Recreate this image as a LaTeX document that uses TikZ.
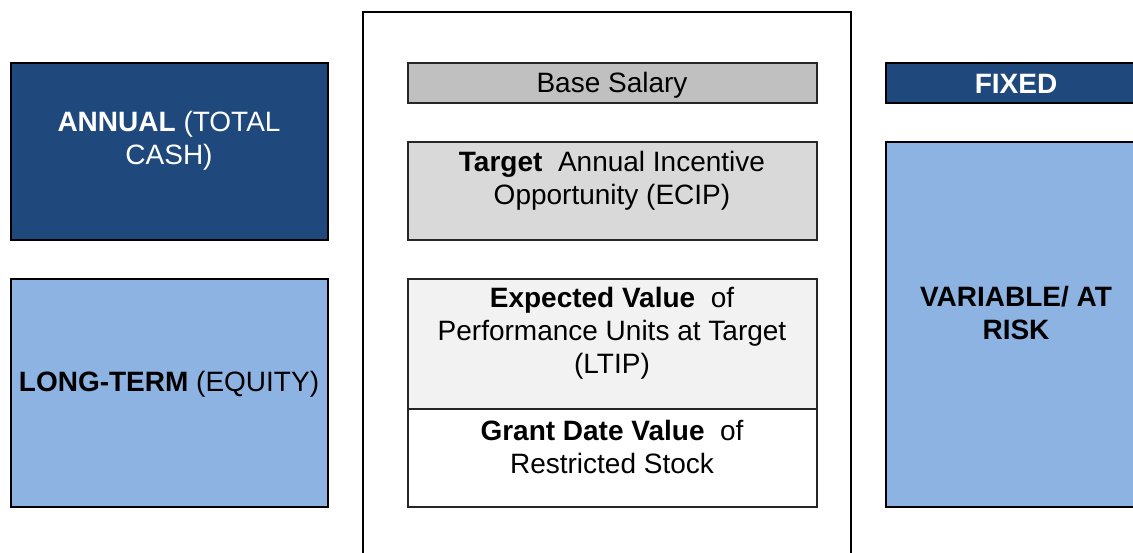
\documentclass[tikz,border=0pt]{standalone}
\usepackage{fontspec}
\setmainfont{Liberation Sans}
\definecolor{darkblue}{HTML}{1F497D}
\definecolor{lightblue}{HTML}{8DB3E2}
\definecolor{greyA}{HTML}{C0C0C0}
\definecolor{greyB}{HTML}{D9D9D9}
\definecolor{greyC}{HTML}{F2F2F2}
\begin{document}
\begin{tikzpicture}[x=1pt,y=-1pt,
  box/.style={draw=black, line width=2pt, inner sep=0pt, rectangle, anchor=north west},
  inbox/.style={draw=black!85, line width=1.6pt, inner sep=0pt, rectangle, anchor=north west, minimum width=409pt},
  txt/.style={font=\fontsize{28}{33}\selectfont, align=center, inner sep=0pt}]
\useasboundingbox (0,0) rectangle (1133,552);
\clip (0,0) rectangle (1133,552);
\fill[white] (0,0) rectangle (1133,552);
% left column
\node[box, fill=darkblue, minimum width=317pt, minimum height=177pt] (annual) at (10,62) {};
\node[box, fill=lightblue, minimum width=317pt, minimum height=228pt] (longterm) at (10,278) {};
% middle frame
\node[box, line width=1.6pt, minimum width=488pt, minimum height=570pt] (frame) at (362,11) {};
\node[inbox, fill=greyA, minimum height=40pt] (base) at (407,62) {};
\node[inbox, fill=greyB, minimum height=98pt] (target) at (407,141) {};
\node[inbox, fill=greyC, minimum height=130pt] (expected) at (407,278) {};
\node[inbox, fill=white, minimum height=98pt] (grant) at (407,408) {};
% right column
\node[box, fill=darkblue, minimum width=262pt, minimum height=40pt] (fixed) at (885,62) {};
\node[box, fill=lightblue, minimum width=262pt, minimum height=365pt] (variable) at (885,141) {};
% texts
\node[txt, text=white] (annualtxt) at (169,141) {\textbf{ANNUAL} (TOTAL\\CASH)};
\node[txt] (longtermtxt) at (169,384) {\textbf{LONG-TERM} (EQUITY)};
\node[txt] (basetxt) at (612,85) {Base Salary};
\node[txt] (targettxt) at (612,181) {\textbf{Target}\ \ Annual Incentive\\Opportunity (ECIP)};
\node[txt] (expectedtxt) at (612,333) {\textbf{Expected Value}\ \ of\\Performance Units at Target\\(LTIP)};
\node[txt] (granttxt) at (612,447) {\textbf{Grant Date Value}\ \ of\\Restricted Stock};
\node[txt, text=white, font=\fontsize{28}{33}\selectfont\bfseries] (fixedtxt) at (1016,84) {FIXED};
\node[txt, font=\fontsize{28}{33}\selectfont\bfseries] (variabletxt) at (1016,313) {VARIABLE/ AT\\RISK};
\end{tikzpicture}
\end{document}
